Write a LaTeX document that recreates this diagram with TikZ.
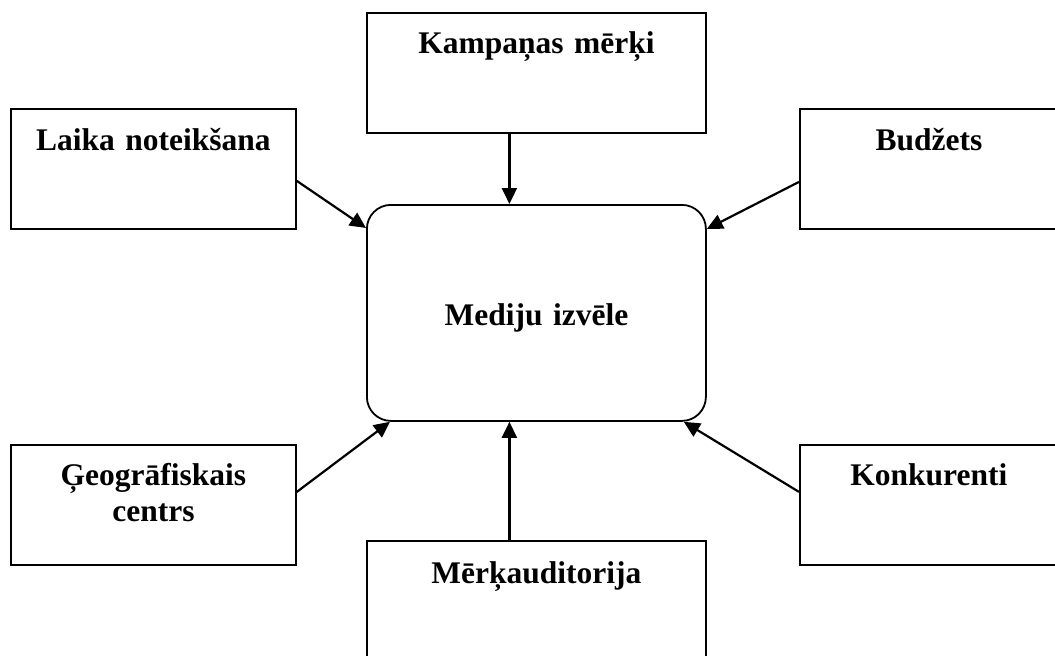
\documentclass[tikz,border=0pt]{standalone}
\usepackage{fontspec}
\setmainfont{Liberation Serif}
\usetikzlibrary{arrows.meta}
\begin{document}
\begin{tikzpicture}[x=1pt,y=-1pt,
  box/.style={draw, line width=1.8pt, inner sep=0pt, anchor=north west,
    align=center, font=\fontsize{31.5}{36}\selectfont\bfseries},
  arr/.style={line width=2.2pt, -{Triangle[length=16pt,width=15pt]}}]
\useasboundingbox (0,0) rectangle (1055,656);
\clip (0,0) rectangle (1055,656);
\node[box, text width=339pt, text height=41pt, text depth=79pt] (kamp) at (366,12) {Kampaņas mērķi};
\node[box, text width=285pt, text height=42pt, text depth=78pt] (laika) at (10,108) {Laika noteikšana};
\node[box, text width=258pt, text height=42pt, text depth=78pt] (bud) at (799,108) {Budžets};
\node[box, rounded corners=24pt, text width=339pt, text height=121pt, text depth=95pt] (med) at (366,204) {Mediju izvēle};
\node[box, text width=285pt, text height=41pt, text depth=79pt] (geo) at (10,444) {Ģeogrāfiskais\\centrs};
\node[box, text width=258pt, text height=41pt, text depth=79pt] (konk) at (799,444) {Konkurenti};
\node[box, text width=339pt, text height=43pt, text depth=77pt] (merk) at (366,540) {Mērķauditorija};
\draw[arr] ([xshift=-27pt]kamp.south) -- ([xshift=-27pt]med.north);
\draw[arr] ([yshift=-12pt]laika.east) -- ([yshift=-24pt]med.north west);
\draw[arr] ([yshift=-13pt]bud.west) -- ([yshift=-25pt]med.north east);
\draw[arr] ([yshift=13pt]geo.east) -- ([xshift=24pt]med.south west);
\draw[arr] ([yshift=13pt]konk.west) -- ([xshift=-23pt]med.south east);
\draw[arr] ([xshift=-27pt]merk.north) -- ([xshift=-27pt]med.south);
\end{tikzpicture}
\end{document}
